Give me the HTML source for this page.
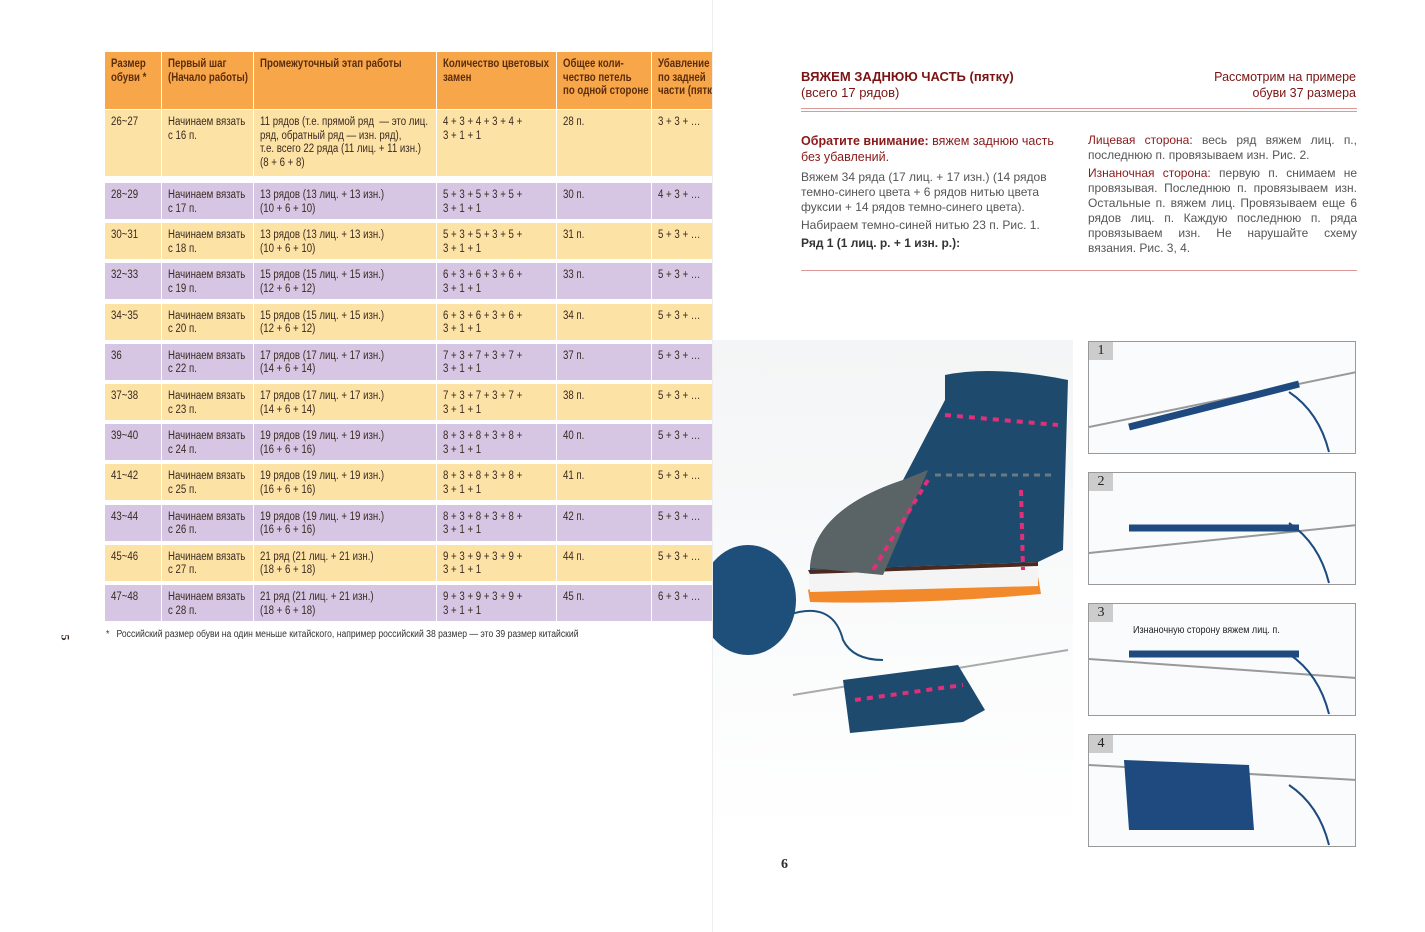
<!DOCTYPE html>
<html><head><meta charset="utf-8"><style>
*{margin:0;padding:0;box-sizing:border-box}
body{width:1425px;height:932px;background:#fff;position:relative;overflow:hidden;font-family:"Liberation Sans",sans-serif;color:#3a2a20}
.a{position:absolute}
.c{position:absolute;font-size:11.5px;line-height:13.5px;padding:6px 0 0 6px;white-space:nowrap;overflow:hidden}
.c span{display:inline-block;transform:scaleX(.84);transform-origin:left top}
.h{color:#5a2d0c;font-weight:bold}
.rt{font-family:"Liberation Sans",sans-serif;font-size:12px;line-height:15px;color:#555}
.mar{color:#8a1a1a}
</style></head><body>
<div class="a" style="left:712px;top:0;width:1px;height:932px;background:#eee"></div>
<div id="tbl"></div>
<div class="a" style="left:106px;top:629px;font-size:10px;color:#333;transform:scaleX(.86);transform-origin:left top;white-space:nowrap">*&nbsp;&nbsp; Российский размер обуви на один меньше китайского, например российский 38 размер — это 39 размер китайский</div>
<div class="a" style="left:62px;top:630px;font-size:12px;font-weight:bold;transform:rotate(90deg);font-family:'Liberation Serif',serif">5</div>
<div class="a" style="left:781px;top:857px;font-size:14px;font-weight:bold;font-family:'Liberation Serif',serif">6</div>

<div class="a" style="left:801px;top:69px;font-size:13px;line-height:16px;color:#7a1414"><b>ВЯЖЕМ ЗАДНЮЮ ЧАСТЬ (пятку)</b><br>(всего 17 рядов)</div>
<div class="a" style="right:69px;top:69px;text-align:right;font-size:12.5px;line-height:16px;color:#7a1414">Рассмотрим на примере<br>обуви 37 размера</div>
<div class="a" style="left:801px;top:108px;width:556px;height:1px;background:#d99"></div>
<div class="a" style="left:801px;top:111px;width:556px;height:1px;background:#d99"></div>
<div class="a rt" style="left:801px;top:133px;width:272px"><b class="mar" style="font-size:12.5px;line-height:16px">Обратите внимание: <span style="font-weight:normal">вяжем заднюю часть без убавлений.</span></b>
<div style="margin-top:5px">Вяжем 34 ряда (17 лиц. + 17 изн.) (14 рядов темно-синего цвета + 6 рядов нитью цвета фуксии + 14 рядов темно-синего цвета).</div>
<div style="margin-top:3px">Набираем темно-синей нитью 23 п. Рис. 1.</div>
<div style="margin-top:3px;color:#333"><b>Ряд 1 (1 лиц. р. + 1 изн. р.):</b></div></div>
<div class="a rt" style="left:1088px;top:133px;width:269px;text-align:justify"><span class="mar">Лицевая сторона:</span> весь ряд вяжем лиц. п., последнюю п. провязываем изн. Рис. 2.
<div style="margin-top:3px"><span class="mar">Изнаночная сторона:</span> первую п. снимаем не провязывая. Последнюю п. провязываем изн. Остальные п. вяжем лиц. Провязываем еще 6 рядов лиц. п. Каждую последнюю п. ряда провязываем изн. Не нарушайте схему вязания. Рис. 3, 4.</div></div>
<div class="a" style="left:801px;top:270px;width:556px;height:1px;background:#d99"></div>

<svg class="a" style="left:713px;top:340px" width="360" height="500">
<defs><linearGradient id="bg" x1="0" y1="0" x2="0" y2="1"><stop offset="0" stop-color="#f3f5f6"/><stop offset="1" stop-color="#fff"/></linearGradient></defs>
<rect width="360" height="500" fill="url(#bg)"/>
<path d="M95 250 L120 237 L325 236 L328 254 Q200 265 97 262Z" fill="#f28a2c"/>
<path d="M95 232 L325 228 L325 246 L97 252Z" fill="#f4f4f4"/>
<path d="M95 230 L325 222 L325 226 L97 234Z" fill="#4a2a20"/>
<path d="M97 228 Q100 170 190 140 L232 60 L232 35 Q280 25 355 40 L350 210 L325 222 L97 230Z" fill="#1e4a6e"/>
<path d="M97 228 Q100 170 190 140 L215 130 L170 235Z" fill="#5a6466"/>
<path d="M232 75 L345 85" stroke="#e0307a" stroke-width="4" stroke-dasharray="6 6"/>
<path d="M222 135 L340 135" stroke="#6a7a80" stroke-width="3" stroke-dasharray="6 5"/>
<path d="M215 140 L160 230" stroke="#e0307a" stroke-width="4" stroke-dasharray="6 5"/>
<path d="M308 150 L310 230" stroke="#e0307a" stroke-width="4" stroke-dasharray="6 5"/>
<ellipse cx="35" cy="260" rx="48" ry="55" fill="#1e4f7a"/>
<path d="M75 275 Q120 260 130 300 Q140 320 170 320" stroke="#1e4f7a" stroke-width="2" fill="none"/>
<path d="M80 355 L355 310" stroke="#aaa" stroke-width="2"/>
<path d="M130 340 L245 325 L272 370 L250 382 L137 393Z" fill="#1e4a6e"/>
<path d="M142 360 L250 345" stroke="#e0307a" stroke-width="4" stroke-dasharray="6 6"/>
</svg>

<div id="ph"></div>
<script>
var rows=[["26~27","Начинаем вязать<br>с 16 п.","11 рядов (т.е. прямой ряд &nbsp;— это лиц.<br>ряд, обратный ряд — изн. ряд),<br>т.е. всего 22 ряда (11 лиц. + 11 изн.)<br>(8 + 6 + 8)","4 + 3 + 4 + 3 + 4 +<br>3 + 1 + 1","28 п.","3 + 3 + …"]];
var d=[[28,17,13,"10 + 6 + 10",5,30,4],[30,18,13,"10 + 6 + 10",5,31,5],[32,19,15,"12 + 6 + 12",6,33,5],[34,20,15,"12 + 6 + 12",6,34,5],[36,22,17,"14 + 6 + 14",7,37,5],[37,23,17,"14 + 6 + 14",7,38,5],[39,24,19,"16 + 6 + 16",8,40,5],[41,25,19,"16 + 6 + 16",8,41,5],[43,26,19,"16 + 6 + 16",8,42,5],[45,27,21,"18 + 6 + 18",9,44,5],[47,28,21,"18 + 6 + 18",9,45,6]];
d.forEach(function(r){var s=r[0]==36?"36":r[0]+"~"+(r[0]+1);var w=r[2]==21?"ряд":"рядов";var n=r[4];
rows.push([s,"Начинаем вязать<br>с "+r[1]+" п.",r[2]+" "+w+" ("+r[2]+" лиц. + "+r[2]+" изн.)<br>("+r[3]+")",n+" + 3 + "+n+" + 3 + "+n+" +<br>3 + 1 + 1",r[5]+" п.",r[6]+" + 3 + …"]);});
var xs=[105,162,254,437,557,652,712],h="";
function row(y,hh,bg,cells,cls){for(var i=0;i<6;i++){h+='<div class="c '+(cls||"")+'" style="left:'+xs[i]+'px;top:'+y+'px;width:'+(xs[i+1]-xs[i]-(i<5?1:0))+'px;height:'+hh+'px;background:'+bg+'"><span>'+cells[i]+'</span></div>';}}
row(52,57,"#f8a64a",["Размер<br>обуви *","Первый шаг<br>(Начало работы)","Промежуточный этап работы","Количество цветовых<br>замен","Общее коли-<br>чество петель<br>по одной стороне","Убавление<br>по задней<br>части (пятк"],"h");
row(110,66,"#fde2a6",rows[0]);
var y=183;for(var k=1;k<rows.length;k++){row(y,36,k%2?"#d6c6e3":"#fde2a6",rows[k]);y+=40.2;}
document.getElementById("tbl").innerHTML=h;
var p="",ys=[341,472,603,734],tx=["","","<div style=\"position:absolute;left:44px;top:20px;font-size:10.5px;color:#222;transform:scaleX(.86);transform-origin:left top;white-space:nowrap\">Изнаночную сторону вяжем лиц. п.</div>",""];
ys.forEach(function(t,i){p+='<div class="a" style="left:1088px;top:'+t+'px;width:268px;height:113px;border:1px solid #999;background:#fafbfc;overflow:hidden"><div style="position:absolute;left:0;top:0;width:24px;height:18px;background:#ccc;font-family:Liberation Serif,serif;font-size:14px;text-align:center;line-height:18px;color:#222;z-index:2">'+(i+1)+'</div>'+tx[i]+'<svg width="268" height="113" style="position:absolute;left:0;top:0"><line x1="0" y1="'+(i==3?30:85-i*15+(i==1?10:0))+'" x2="268" y2="'+(i==3?45:30+i*22)+'" stroke="#999" stroke-width="2"/>'+(i==3?'<path d="M35 25 L160 30 L165 95 L40 95Z" fill="#1e4a80"/>':'<path d="M40 '+(i==1?55:i==2?50:85)+' L210 '+(i==1?55:i==2?50:42)+'" stroke="#1e4a80" stroke-width="7"/>')+'<path d="M200 50 Q230 70 240 110" stroke="#1e4a80" stroke-width="2" fill="none"/></svg></div>';});
document.getElementById("ph").innerHTML=p;
</script>
</body></html>
